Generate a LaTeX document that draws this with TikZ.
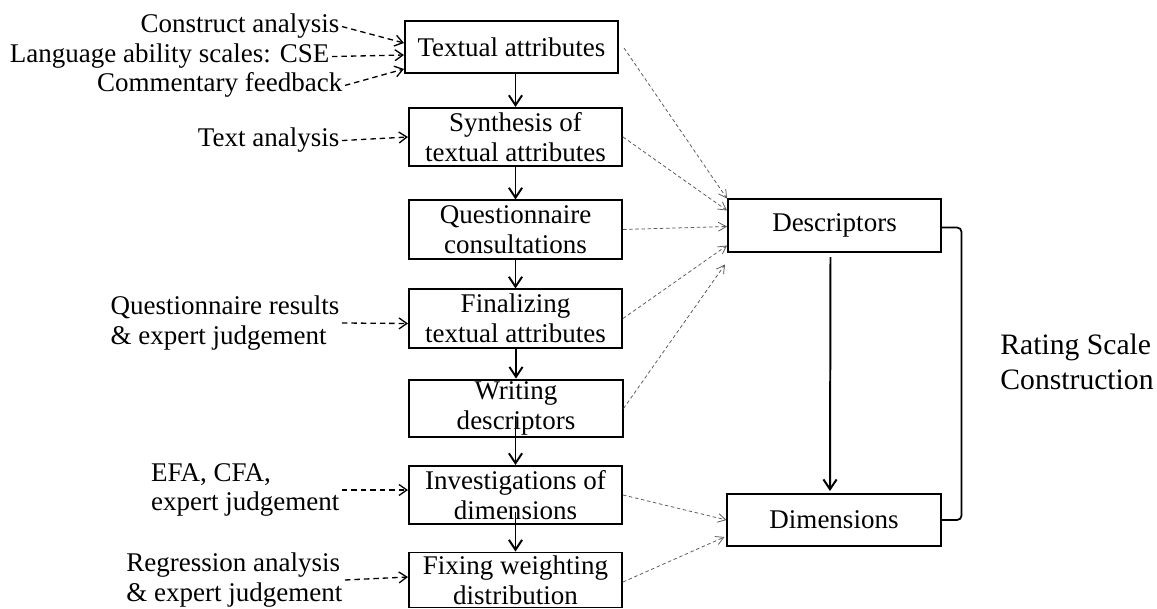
\documentclass[tikz,border=0pt]{standalone}
\usepackage{fontspec}
\setmainfont{Liberation Serif}
\usepackage{tikz}
\usetikzlibrary{arrows.meta,calc}
\definecolor{linegray}{HTML}{5A5A5A}

\begin{document}
\begin{tikzpicture}[x=0.016cm,y=-0.016cm,
  every node/.style={font=\fontsize{12.3}{13.6}\selectfont},
  box/.style={draw,line width=0.9pt,minimum width=3.41cm,minimum height=0.93cm,inner sep=1pt,align=center},
  src/.style={inner sep=1pt,align=left},
  flow/.style={-{Straight Barb[length=4.5pt,width=6pt]},line width=0.9pt},
  feed/.style={-{Straight Barb[length=3.6pt,width=5pt]},line width=0.6pt,dash pattern=on 2.5pt off 1.8pt},
  link/.style={-{Straight Barb[length=3.6pt,width=4pt]},linegray,line width=0.35pt,dash pattern=on 1.6pt off 1.2pt}]
  \useasboundingbox (0,0) rectangle (1157,609);
  \node[box,minimum height=0.83cm] (ta) at (511.5,47) {Textual attributes};
  \node[box] (sy) at (515.5,137) {Synthesis of\\textual attributes};
  \node[box] (qc) at (515.5,229.5) {Questionnaire\\consultations};
  \node[box] (fi) at (515.5,318.5) {Finalizing\\textual attributes};
  \node[box,minimum height=0.91cm] (wd) at (516,408.5) {Writing\\descriptors};
  \node[box] (id) at (515.5,495) {Investigations of\\dimensions};
  \node[box,minimum height=0.88cm,inner sep=0.3pt] (fw) at (515.5,580) {Fixing weighting\\distribution};
  \node[box,minimum height=0.85cm] (de) at (834.5,225.5) {Descriptors};
  \node[box,minimum height=0.83cm] (di) at (834,520) {Dimensions};
  \node[src,anchor=base east] (ca) at (342,33) {Construct analysis};
  \node[src,anchor=base east] (ls) at (332,63) {Language ability scales: CSE};
  \node[src,anchor=base east] (cf) at (345,92) {Commentary feedback};
  \node[src,anchor=base east] (tx) at (342,147) {Text analysis};
  \node[src,anchor=east] (qr) at (342,323) {Questionnaire results\\\& expert judgement};
  \node[src,anchor=east] (ef) at (342,490) {EFA, CFA,\\expert judgement};
  \node[src,anchor=east] (ra) at (345,580) {Regression analysis\\\& expert judgement};
  \node[anchor=west,inner sep=0pt,align=left,font=\fontsize{13.5}{15.9}\selectfont] (rs) at (1000,362) {Rating Scale\\Construction};
  \draw[flow] (ta.south -| sy.north)--(sy.north);
  \draw[flow] (sy)--(qc);
  \draw[flow] (qc.south -| fi.north)--(fi.north);
  \draw[flow] (fi.south -| wd.north)--(wd.north);
  \draw[flow,shorten <=-10pt] (wd.south -| id.north)--(id.north);
  \draw[flow,shorten <=-6pt] (id)--(fw);
  \draw[flow] ($(de.south)+(-4,4)$)--($(di.north)+(-4,-2)$);
  \draw[line width=0.8pt,rounded corners=2pt] ($(de.east)+(0,2)$)-|($(di.east)+(20,0)$)--(di.east);
  \draw[feed] (ca.east)--($(ta.west)+(0,-4)$);
  \draw[feed] (ls.east)--($(ta.west)+(0,8)$);
  \draw[feed] (cf.east)--($(ta.west)+(0,22)$);
  \draw[feed] (tx.east)--(sy.west);
  \draw[feed] (qr.east)--($(fi.west)+(0,5)$);
  \draw[feed] (ef.east)--($(id.west)+(0,-5)$);
  \draw[feed] (ra.east)--($(fw.west)+(0,-3)$);
  \draw[link] ($(ta.east)+(5,1)$)--($(de.west)+(0,-27)$);
  \draw[link] (sy.east)--($(de.west)+(0,-15)$);
  \draw[link] (qc.east)--($(de.west)+(0,1)$);
  \draw[link] (fi.east)--($(de.west)+(0,20)$);
  \draw[link] (wd.east)--($(de.west)+(-2,39)$);
  \draw[link] (id.east)--(di.west);
  \draw[link] ($(fw.east)+(0,2)$)--($(di.west)+(-2,17)$);
\end{tikzpicture}
\end{document}
